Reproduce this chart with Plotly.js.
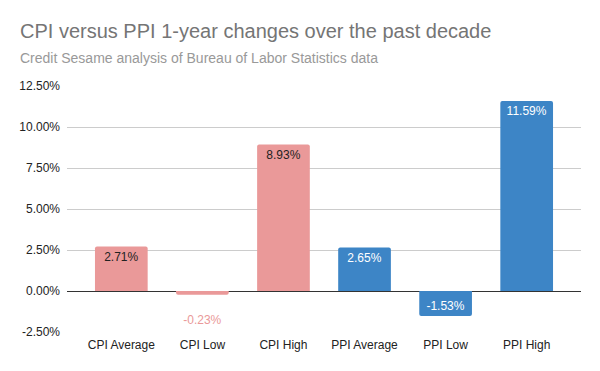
<!DOCTYPE html>
<html><head><meta charset="utf-8">
<script src="https://cdn.plot.ly/plotly-3.0.1.min.js"></script>
<style>html,body{margin:0;padding:0;background:#fff}#c{width:600px;height:371px}</style>
</head><body><div id="c"></div>
<script>
const categories = ['CPI Average','CPI Low','CPI High','PPI Average','PPI Low','PPI High'];
const values = [2.71, -0.23, 8.93, 2.65, -1.53, 11.59];
const labels = ['2.71%','-0.23%','8.93%','2.65%','-1.53%','11.59%'];
const barColors = ['#ea9999','#ea9999','#ea9999','#3d85c6','#3d85c6','#3d85c6'];
const labelColors = ['#222222','#ea9999','#222222','#ffffff','#ffffff','#ffffff'];
const labelPositions = ['inside','outside','inside','inside','inside','inside'];
const tickVals = [-2.5,0,2.5,5,7.5,10,12.5];
const tickText = ['-2.50%','0.00%','2.50%','5.00%','7.50%','10.00%','12.50%'];

const F = '"Liberation Sans", Arial, sans-serif';
const templates = labelPositions.map(p => p === 'outside' ? '\u00a0<br>%{text}' : '%{text}');
const trace = {
  type:'bar', x:[0,1,2,3,4,5], y:values, text:labels, texttemplate:templates,
  textposition:labelPositions, insidetextanchor:'end',
  textfont:{family:F, size:12, color:labelColors},
  outsidetextfont:{family:F, size:12, color:labelColors},
  constraintext:'none', cliponaxis:false,
  marker:{color:barColors, cornerradius:2, line:{width:0}},
  hoverinfo:'none'
};
const layout = {
  width:600, height:371,
  margin:{l:67, r:19, t:86, b:39},
  paper_bgcolor:'#fff', plot_bgcolor:'#fff',
  font:{family:F, size:12, color:'#222'},
  bargap:0.35, showlegend:false,
  xaxis:{range:[-0.67,5.67], tickvals:[0,1,2,3,4,5], ticktext:categories, tickfont:{size:12, color:'#222'},
    showgrid:false, showline:false, zeroline:false, ticks:'', ticklabelstandoff:4, fixedrange:true},
  yaxis:{range:[-2.5,12.5], tickvals:tickVals, ticktext:tickText, tickfont:{size:12,color:'#222'},
    gridcolor:'#cccccc', gridwidth:1, zeroline:true, zerolinecolor:'#333333', zerolinewidth:1,
    ticks:'', ticklabelstandoff:6, fixedrange:true},
  annotations:[
    {xref:'paper', yref:'paper', x:-49/514, y:1+ (86-31)/246, xanchor:'left', yanchor:'middle', showarrow:false,
     text:'CPI versus PPI 1-year changes over the past decade', font:{family:F, size:20, color:'#757575'}},
    {xref:'paper', yref:'paper', x:-49/514, y:1+ (86-58)/246, xanchor:'left', yanchor:'middle', showarrow:false,
     text:'Credit Sesame analysis of Bureau of Labor Statistics data', font:{family:F, size:14, color:'#999999'}}
  ]
};
Plotly.newPlot('c',[trace],layout,{displayModeBar:false, staticPlot:true});
</script></body></html>
